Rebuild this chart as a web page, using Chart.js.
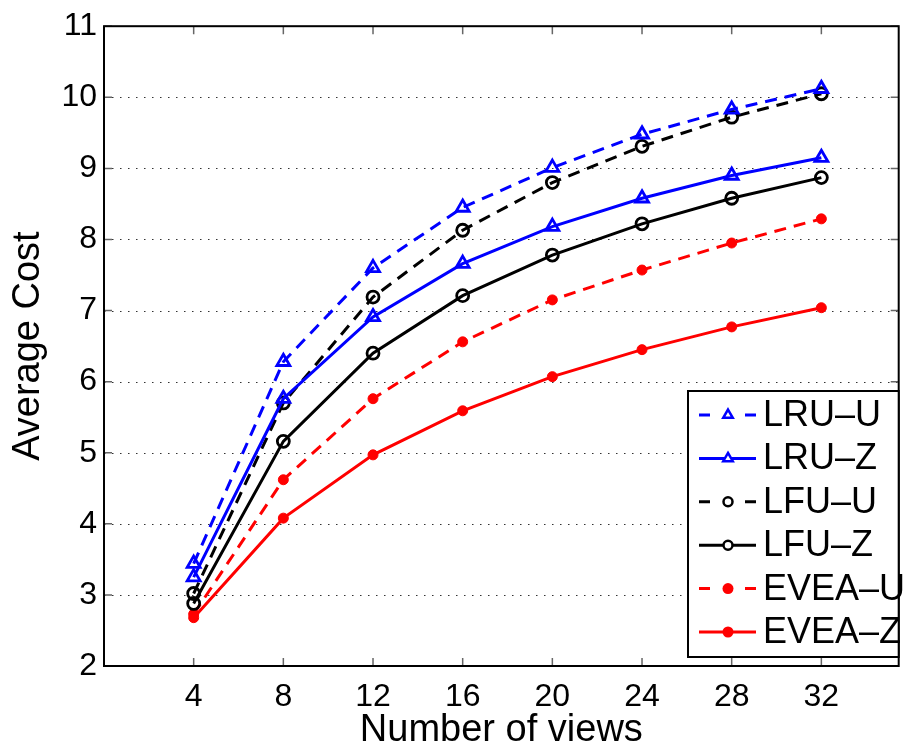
<!DOCTYPE html>
<html>
<head>
<meta charset="utf-8">
<script src="https://cdn.jsdelivr.net/npm/chart.js@4/dist/chart.umd.min.js"></script>
<style>
html, body { margin: 0; padding: 0; background: #fff; }
</style>
</head>
<body>
<canvas id="chartViews" width="909" height="749"></canvas>
<script>
// values
var views = [4, 8, 12, 16, 20, 24, 28, 32];
var lruU = [3.44, 6.28, 7.60, 8.45, 9.01, 9.48, 9.83, 10.12];
var lruZ = [3.25, 5.76, 6.91, 7.66, 8.18, 8.58, 8.90, 9.15];
var lfuU = [3.02, 5.70, 7.19, 8.13, 8.80, 9.31, 9.72, 10.05];
var lfuZ = [2.88, 5.16, 6.40, 7.21, 7.78, 8.22, 8.58, 8.87];
var eveaU = [2.73, 4.62, 5.76, 6.56, 7.15, 7.57, 7.95, 8.29];
var eveaZ = [2.68, 4.08, 4.97, 5.59, 6.07, 6.45, 6.77, 7.04];
var yTicks = [2, 3, 4, 5, 6, 7, 8, 9, 10, 11];
var seriesNames = ["LRU\u2013U", "LRU\u2013Z", "LFU\u2013U", "LFU\u2013Z", "EVEA\u2013U", "EVEA\u2013Z"];

var FONT = "'Liberation Sans', Arial, Helvetica, sans-serif";

function pts(arr) {
    return views.map(function(v, i) { return { x: v, y: arr[i] }; });
}

function makeSet(label, arr, color, dashed, marker) {
    var filled = marker === "dot";
    return {
        label: label,
        data: pts(arr),
        borderColor: color,
        borderWidth: 3,
        borderDash: dashed ? [12, 8] : [],
        pointStyle: marker === "tri" ? "triangle" : "circle",
        pointRadius: marker === "tri" ? 7.5 : (filled ? 5 : 6),
        pointBorderWidth: filled ? 1 : 2.8,
        pointBorderColor: color,
        pointBackgroundColor: filled ? color : "rgba(255,255,255,0)",
        tension: 0,
        fill: false,
        _dashed: dashed,
        _marker: marker,
    };
}

var datasets = [
    makeSet(seriesNames[0], lruU, "#0000ff", true, "tri"),
    makeSet(seriesNames[1], lruZ, "#0000ff", false, "tri"),
    makeSet(seriesNames[2], lfuU, "#000000", true, "circ"),
    makeSet(seriesNames[3], lfuZ, "#000000", false, "circ"),
    makeSet(seriesNames[4], eveaU, "#ff0000", true, "dot"),
    makeSet(seriesNames[5], eveaZ, "#ff0000", false, "dot"),
];

// matlab style frame: dotted grid, box, inward ticks, legend in the corner
var matlabFrame = {
    id: "matlabFrame",
    beforeDatasetsDraw: function(chart) {
        var ctx = chart.ctx, a = chart.chartArea, ys = chart.scales.y;
        ctx.save();
        ctx.strokeStyle = "#333";
        ctx.lineWidth = 1.2;
        ctx.setLineDash([1.5, 6.5]);
        yTicks.forEach(function(t) {
            if (t === ys.min || t === ys.max) return;
            var py = Math.round(ys.getPixelForValue(t)) + 0.5;
            ctx.beginPath();
            ctx.moveTo(a.left, py);
            ctx.lineTo(a.right, py);
            ctx.stroke();
        });
        ctx.restore();
    },
    afterDatasetsDraw: function(chart) {
        var ctx = chart.ctx, a = chart.chartArea;
        var xs = chart.scales.x, ys = chart.scales.y;
        ctx.save();
        ctx.setLineDash([]);
        ctx.strokeStyle = "#666";
        ctx.lineWidth = 1.5;
        views.forEach(function(v) {
            var px = xs.getPixelForValue(v);
            ctx.beginPath();
            ctx.moveTo(px, a.bottom); ctx.lineTo(px, a.bottom - 8);
            ctx.moveTo(px, a.top); ctx.lineTo(px, a.top + 8);
            ctx.stroke();
        });
        yTicks.forEach(function(t) {
            var py = ys.getPixelForValue(t);
            ctx.beginPath();
            ctx.moveTo(a.left, py); ctx.lineTo(a.left + 8, py);
            ctx.moveTo(a.right, py); ctx.lineTo(a.right - 8, py);
            ctx.stroke();
        });
        ctx.strokeStyle = "#000";
        ctx.lineWidth = 2;
        ctx.strokeRect(a.left, a.top, a.right - a.left, a.bottom - a.top);

        // legend box
        var bx = 688, by = 391, bw = a.right - 688, bh = 266;
        ctx.fillStyle = "#fff";
        ctx.fillRect(bx, by, bw, bh);
        ctx.lineWidth = 2;
        ctx.strokeRect(bx, by, bw, bh);
        chart.data.datasets.forEach(function(ds, i) {
            var cy = 415 + i * 43.4;
            var c = ds.borderColor;
            ctx.strokeStyle = c;
            ctx.fillStyle = c;
            ctx.lineWidth = 3;
            ctx.beginPath();
            if (ds._dashed) {
                ctx.moveTo(699, cy); ctx.lineTo(710, cy);
                ctx.moveTo(745, cy); ctx.lineTo(756, cy);
            } else {
                ctx.moveTo(699, cy); ctx.lineTo(756, cy);
            }
            ctx.stroke();
            ctx.lineWidth = 2.5;
            if (ds._marker === "tri") {
                var r = 5.5;
                ctx.beginPath();
                ctx.moveTo(728, cy - r);
                ctx.lineTo(728 + r * 0.866, cy + r * 0.5);
                ctx.lineTo(728 - r * 0.866, cy + r * 0.5);
                ctx.closePath();
                ctx.fillStyle = "#fff";
                ctx.fill();
                ctx.stroke();
            } else if (ds._marker === "circ") {
                ctx.beginPath();
                ctx.arc(728, cy, 4.5, 0, Math.PI * 2);
                ctx.fillStyle = "#fff";
                ctx.fill();
                ctx.stroke();
            } else {
                ctx.beginPath();
                ctx.arc(728, cy, 5.5, 0, Math.PI * 2);
                ctx.fill();
            }
            ctx.fillStyle = "#000";
            ctx.font = "36px " + FONT;
            ctx.textBaseline = "middle";
            ctx.textAlign = "left";
            ctx.fillText(ds.label, 763, cy + 1);
        });
        ctx.restore();
    },
};

var ctx = document.getElementById("chartViews");
var chartViews = new Chart(ctx, {
    type: "line",
    data: { datasets: datasets },
    plugins: [matlabFrame],
    options: {
        responsive: false,
        animation: false,
        devicePixelRatio: 1,
        layout: { padding: { top: 23, right: 3, left: 0, bottom: 0 } },
        plugins: {
            legend: { display: false },
            tooltip: { enabled: false },
        },
        scales: {
            x: {
                type: "linear",
                min: 0,
                max: 35.45,
                afterBuildTicks: function(axis) {
                    axis.ticks = views.map(function(v) { return { value: v }; });
                },
                afterFit: function(axis) { axis.height = 83; },
                grid: { display: false, drawTicks: false },
                border: { display: false },
                ticks: {
                    color: "#000",
                    padding: 12,
                    maxRotation: 0,
                    font: { family: FONT, size: 32 },
                },
                title: {
                    display: true,
                    text: "Number of views",
                    color: "#000",
                    font: { family: FONT, size: 38 },
                    padding: { top: 0, bottom: -4 },
                },
            },
            y: {
                min: 2,
                max: 11,
                afterBuildTicks: function(axis) {
                    axis.ticks = yTicks.map(function(v) { return { value: v }; });
                },
                afterFit: function(axis) { axis.width = 104; },
                grid: { display: false, drawTicks: false },
                border: { display: false },
                ticks: {
                    color: "#000",
                    padding: 7,
                    font: { family: FONT, size: 32 },
                },
                title: {
                    display: true,
                    text: "Average Cost",
                    color: "#000",
                    font: { family: FONT, size: 38 },
                    padding: { top: 6, bottom: 0 },
                },
            },
        },
    },
});
</script>
</body>
</html>
